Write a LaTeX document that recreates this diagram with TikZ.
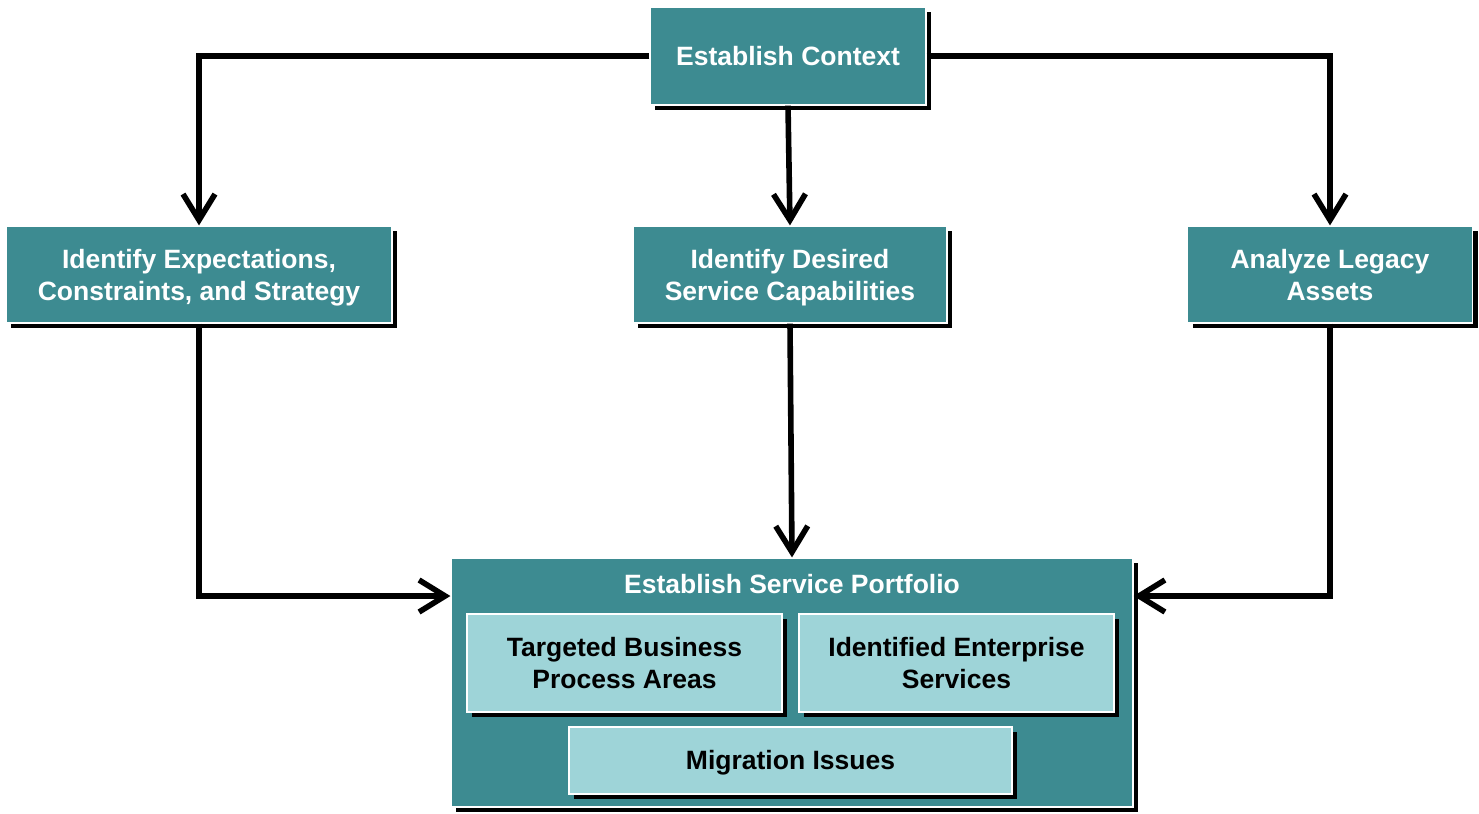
\documentclass[tikz,border=0pt]{standalone}
\usepackage{fontspec}
\setmainfont{Liberation Sans}
\usetikzlibrary{arrows.meta, positioning, shadows}
\definecolor{procteal}{RGB}{61,139,145}
\definecolor{proclight}{RGB}{158,212,216}
\tikzset{
  stage/.style={fill=procteal, draw=white, line width=0.6pt, text=white,
    font=\bfseries\fontsize{13.25}{16}\selectfont, align=center, inner sep=0pt,
    text height=25.5pt, text depth=0pt,
    drop shadow={shadow xshift=2.5pt, shadow yshift=-2.5pt, fill=black, opacity=1}},
  part/.style={stage, fill=proclight, text=black},
  oneline/.style={text height=9.5pt, text depth=0.5pt},
  flow/.style={line width=2.8pt, -{Straight Barb[length=13pt,width=16pt]}}
}

\begin{document}
\begin{tikzpicture}[x=0.5pt, y=-0.5pt]
    \useasboundingbox (0,0) rectangle (1479,814);
    % top and second row
    \node[stage, oneline, minimum width=138pt, minimum height=49pt] (ctx) at (788,56) {Establish Context};
    \node[stage, minimum width=193pt, minimum height=48.5pt] (expect) at (199,274.5) {Identify Expectations,\\Constraints, and Strategy};
    \node[stage, minimum width=157pt, minimum height=48.5pt] (desired) at (790,274.5) {Identify Desired\\Service Capabilities};
    \node[stage, minimum width=142.5pt, minimum height=48.5pt] (legacy) at (1330,274.5) {Analyze Legacy\\Assets};
    % portfolio with its parts
    \node[stage, oneline, minimum width=341pt, minimum height=124.5pt] (portfolio) at (792,682.5) {};
    \node[text=white, font=\bfseries\fontsize{13.25}{16}\selectfont, oneline] (title) at (792,584) {Establish Service Portfolio};
    \node[part, minimum width=157.5pt, minimum height=49pt] (areas) at (624.5,663) {Targeted Business\\Process Areas};
    \node[part, minimum width=157.5pt, minimum height=49pt] (services) at (956.5,663) {Identified Enterprise\\Services};
    \node[part, oneline, minimum width=221.5pt, minimum height=33.5pt] (issues) at (790.5,760.5) {Migration Issues};
    \coordinate (inleft) at (portfolio.west |- 0,596);
    \coordinate (inright) at (portfolio.east |- 0,596);
    % connectors
    \draw[flow] (ctx.west) -| (expect.north);
    \draw[flow] (ctx.east) -| (legacy.north);
    \draw[flow] (ctx.south) -- (desired.north);
    \draw[flow] (expect.south) |- (inleft);
    \draw[flow] (legacy.south) |- (inright);
    \draw[flow] (desired.south) -- (portfolio.north);
\end{tikzpicture}
\end{document}
